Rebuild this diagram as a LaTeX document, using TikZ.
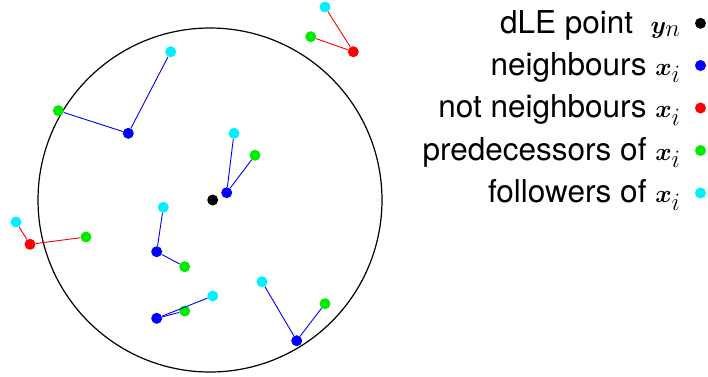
\documentclass[tikz,border=0pt]{standalone}
\usepackage{amsmath,bm}
\usepackage{fontspec}
\setmainfont{TeX Gyre Heros}
\definecolor{cblue}{RGB}{0,0,255}
\definecolor{cred}{RGB}{255,0,0}
\definecolor{cgreen}{RGB}{0,235,0}
\definecolor{ccyan}{RGB}{0,240,255}
\newcommand{\mth}[1]{{\fontsize{36}{40}\selectfont$#1$}}
\tikzset{
  dot/.style={circle,inner sep=0pt,minimum size=11pt,fill=#1},
  bl/.style={draw=cblue,line width=0.9pt},
  rl/.style={draw=cred,line width=0.9pt},
  lg/.style={anchor=base east,font=\fontsize{31.5}{34}\selectfont},
}
\begin{document}
\begin{tikzpicture}[x=1pt,y=-1pt]
\useasboundingbox (0,0) rectangle (708,376);
\node[circle,draw,line width=1.2pt,minimum size=344pt,inner sep=0pt] (C) at (210,200) {};
% group A
\node[dot=cred] (a0) at (353.3,51.7) {};
\node[dot=cgreen] (a1) at (310.7,36.7) {};
\node[dot=ccyan] (a2) at (325,7) {};
\draw[rl] (a0) -- (a1); \draw[rl] (a0) -- (a2);
% group B
\node[dot=cblue] (b0) at (128.3,133.3) {};
\node[dot=cgreen] (b1) at (58.3,110.7) {};
\node[dot=ccyan] (b2) at (170.7,51.7) {};
\draw[bl] (b0) -- (b1); \draw[bl] (b0) -- (b2);
% group C
\node[dot=cblue] (c0) at (226.7,192.7) {};
\node[dot=ccyan] (c2) at (234,133.3) {};
\node[dot=cgreen] (c1) at (255,155.3) {};
\draw[bl] (c0) -- (c1); \draw[bl] (c0) -- (c2);
% group D
\node[dot=cred] (d0) at (30,244.3) {};
\node[dot=ccyan] (d2) at (16,222) {};
\node[dot=cgreen] (d1) at (86,237) {};
\draw[rl] (d0) -- (d1); \draw[rl] (d0) -- (d2);
% group E
\node[dot=cblue] (e0) at (156.7,251.7) {};
\node[dot=ccyan] (e2) at (163.3,207.3) {};
\node[dot=cgreen] (e1) at (184.7,266.7) {};
\draw[bl] (e0) -- (e1); \draw[bl] (e0) -- (e2);
% group F
\node[dot=cblue] (f0) at (156.7,318.3) {};
\node[dot=cgreen] (f1) at (184.7,311) {};
\node[dot=ccyan] (f2) at (212.7,296) {};
\draw[bl] (f0) -- (f1); \draw[bl] (f0) -- (f2);
% group G
\node[dot=cblue] (g0) at (296.7,340.7) {};
\node[dot=ccyan] (g2) at (262,281.7) {};
\node[dot=cgreen] (g1) at (325,303.7) {};
\draw[bl] (g0) -- (g1); \draw[bl] (g0) -- (g2);
% dLE point
\node[dot=black] (y) at (212.7,200) {};
% legend
\node[lg] (t1) at (684,33) {dLE point~~\mth{\bm{y}_n}};
\node[lg] (t2) at (684,75) {neighbours \mth{\bm{x}_i}};
\node[lg] (t3) at (684,117.5) {not neighbours \mth{\bm{x}_i}};
\node[lg] (t4) at (684,160) {predecessors of \mth{\bm{x}_i}};
\node[lg] (t5) at (684,202.5) {followers of \mth{\bm{x}_i}};
\node[dot=black] (l1) at (700.5,23.3) {};
\node[dot=cblue] (l2) at (700.5,65.5) {};
\node[dot=cred] (l3) at (700.5,108) {};
\node[dot=cgreen] (l4) at (700.5,150.5) {};
\node[dot=ccyan] (l5) at (700.5,193) {};
\end{tikzpicture}
\end{document}
